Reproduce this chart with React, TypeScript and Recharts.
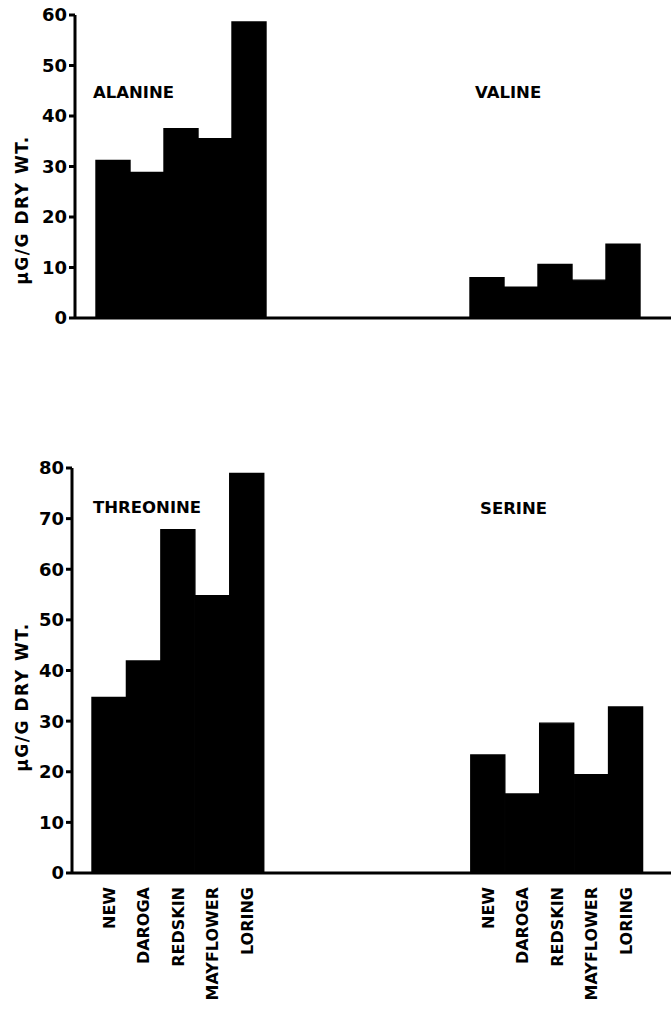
import { BarChart, Bar, XAxis, YAxis } from "recharts"

const cultivars = ["NEW", "DAROGA", "REDSKIN", "MAYFLOWER", "LORING"]
const alanine = [31.2, 28.8, 37.5, 35.5, 58.6]
const valine = [8.0, 6.1, 10.6, 7.5, 14.6]
const threonine = [34.7, 41.9, 67.8, 54.8, 78.9]
const serine = [23.3, 15.6, 29.6, 19.4, 32.8]
const topTicks = [0, 10, 20, 30, 40, 50, 60]
const bottomTicks = [0, 10, 20, 30, 40, 50, 60, 70, 80]
const GAP_SLOTS = 6

const FONT = '"DejaVu Sans", sans-serif'

type Row = { key: string; label: string; v: number | null }

// left group, empty slots, right group — all on one category axis
function buildRows(left: number[], right: number[]): Row[] {
  const rows: Row[] = []
  cultivars.forEach((c, i) => rows.push({ key: `L${i}`, label: c, v: left[i] }))
  for (let i = 0; i < GAP_SLOTS; i++) rows.push({ key: `G${i}`, label: "", v: null })
  cultivars.forEach((c, i) => rows.push({ key: `R${i}`, label: c, v: right[i] }))
  return rows
}

const topRows = buildRows(alanine, valine)
const bottomRows = buildRows(threonine, serine)
const labelOf: Record<string, string> = {}
bottomRows.forEach((r) => (labelOf[r.key] = r.label))

const yTick = { fill: "#000", fontFamily: FONT, fontWeight: 700, fontSize: 18 }

function CultivarTick({ x, y, payload }: any) {
  const text = labelOf[payload.value]
  if (!text) return null
  const ty = y + 6
  return (
    <text
      x={x}
      y={ty}
      transform={`rotate(-90, ${x}, ${ty})`}
      textAnchor="end"
      dy="0.36em"
      fill="#000"
      fontFamily={FONT}
      fontWeight={700}
      fontSize={16}
    >
      {text}
    </text>
  )
}

function Titles() {
  const t = { fontFamily: FONT, fontWeight: 700, fontSize: 16.5, fill: "#000" }
  const ylab = { fontFamily: FONT, fontWeight: 700, fontSize: 17, fill: "#000", letterSpacing: 1.5 }
  return (
    <svg
      width={671}
      height={1011}
      style={{ position: "absolute", left: 0, top: 0, pointerEvents: "none" }}
    >
      <text x={93} y={98} {...t}>ALANINE</text>
      <text x={475} y={98} {...t}>VALINE</text>
      <text x={93} y={513} {...t}>THREONINE</text>
      <text x={480} y={514} {...t}>SERINE</text>
      <text x={22} y={210} transform="rotate(-90, 22, 210)" textAnchor="middle" dominantBaseline="central" {...ylab}>
        μG/G DRY WT.
      </text>
      <text x={22} y={697} transform="rotate(-90, 22, 697)" textAnchor="middle" dominantBaseline="central" {...ylab}>
        μG/G DRY WT.
      </text>
    </svg>
  )
}

export default function App() {
  const axisLine = { stroke: "#000", strokeWidth: 3 }
  const tickLine = { stroke: "#000", strokeWidth: 3 }
  return (
    <div style={{ position: "absolute", left: 0, top: 0, width: 671, height: 1011, background: "#fff" }}>
      <div style={{ position: "absolute", left: 0, top: 0 }}>
        <BarChart width={671} height={340} data={topRows} barCategoryGap={0} margin={{ top: 15, right: 0, bottom: 0, left: 0 }}>
          <XAxis dataKey="key" height={22} tick={false} tickLine={false} axisLine={axisLine} padding={{ left: 21, right: 31 }} />
          <YAxis
            width={75}
            domain={[0, 60]}
            ticks={topTicks}
            tick={yTick}
            tickSize={6}
            axisLine={axisLine}
            tickLine={tickLine}
          />
          <Bar dataKey="v" fill="#000" stroke="#000" strokeWidth={1.4} isAnimationActive={false} />
        </BarChart>
      </div>
      <div style={{ position: "absolute", left: 0, top: 440 }}>
        <BarChart width={671} height={571} data={bottomRows} barCategoryGap={0} margin={{ top: 28, right: 0, bottom: 0, left: 0 }}>
          <XAxis
            dataKey="key"
            height={138}
            interval={0}
            tick={<CultivarTick />}
            tickLine={false}
            axisLine={axisLine}
            padding={{ left: 20, right: 28 }}
          />
          <YAxis
            width={72}
            domain={[0, 80]}
            ticks={bottomTicks}
            tick={yTick}
            tickSize={6}
            axisLine={axisLine}
            tickLine={tickLine}
          />
          <Bar dataKey="v" fill="#000" stroke="#000" strokeWidth={1.4} isAnimationActive={false} />
        </BarChart>
      </div>
      <Titles />
    </div>
  )
}
